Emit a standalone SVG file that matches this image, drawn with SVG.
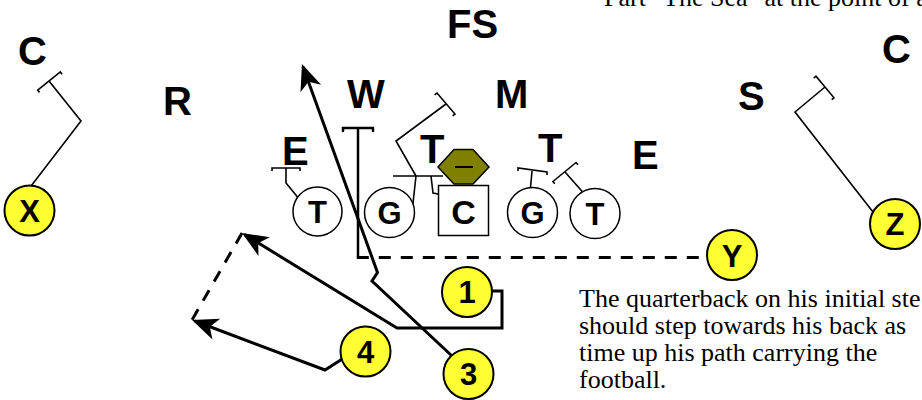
<svg xmlns="http://www.w3.org/2000/svg" width="922" height="400" viewBox="0 0 922 400">
<style>
.big{font-family:"Liberation Sans",Arial,sans-serif;font-weight:bold;font-size:40px;fill:#000}
.pl{font-family:"Liberation Sans",Arial,sans-serif;font-weight:bold;font-size:31px;fill:#000;text-anchor:middle}
.note{font-family:"Liberation Serif","Times New Roman",serif;font-size:26px;fill:#000}
.ol{fill:#fff;stroke:#000;stroke-width:1.5}
.sk{fill:#ffff33;stroke:#000;stroke-width:2}
.thin{fill:none;stroke:#000;stroke-width:1.6;stroke-linejoin:miter}
.route{fill:none;stroke:#000;stroke-width:3;stroke-linejoin:miter}
.dash{fill:none;stroke:#000;stroke-width:3;stroke-dasharray:12 10}
</style>
<defs>
<marker id="ah" markerUnits="userSpaceOnUse" viewBox="-25 -12 30 24" markerWidth="30" markerHeight="24" refX="0" refY="0" orient="auto">
<path d="M3,0 L-23,-11 L-16,0 L-23,11 Z" fill="#000"/>
</marker>
</defs>
<rect width="922" height="400" fill="#fff"/>

<g id="defense-labels">
<text class="big" x="18" y="65">C</text>
<text class="big" x="163" y="115">R</text>
<text class="big" x="447" y="38">FS</text>
<text class="big" x="347" y="108">W</text>
<text class="big" x="495" y="108">M</text>
<text class="big" x="738" y="110">S</text>
<text class="big" x="882" y="63">C</text>
<text class="big" x="282" y="165">E</text>
<text class="big" x="420" y="163">T</text>
<text class="big" x="538" y="162">T</text>
<text class="big" x="632" y="169">E</text>
</g>

<g id="connectors">
<path class="thin" d="M28,190 L81,121 L49,81"/>
<path class="thin" d="M39.5,92.5 L37.7,90.1 L60.3,71.9 L62.1,74.3"/>
<path class="thin" d="M873,212 L795,112 L825,87"/>
<path class="thin" d="M813.7,78.1 L816,76.2 L834,97.8 L831.7,99.7"/>
<path class="thin" d="M300,200 L286,183 L286,168"/>
<path class="thin" d="M272,171 L272,168 L300,168 L300,171"/>
<path class="thin" d="M407,203 L413,203 L416,176"/>
<path class="thin" d="M393,176 L443,176"/>
<path class="thin" d="M438,194 L433,193 L431,176"/>
<path class="thin" d="M416,176 L396,141 L446,104"/>
<path class="thin" d="M434.6,94.8 L437,93 L455,114 L452.6,115.8"/>
<path class="thin" d="M530,193 L532,171"/>
<path class="thin" d="M518,171 L518,168 L547,172 L547,175"/>
<path class="thin" d="M588,198 L565,172"/>
<path class="thin" d="M554.8,183.8 L552.9,181.5 L576.1,162.5 L578,164.8"/>
<path d="M358,128 L358,257.5" fill="none" stroke="#000" stroke-width="2.5"/>
<path d="M343,131 L343,128 L373,128 L373,131" fill="none" stroke="#000" stroke-width="2.5" stroke-linecap="round"/>
<path class="dash" d="M356.8,257.5 L707,257.5"/>
<path class="route" d="M482,291 L502,291 L502,328 L397,328 L244.6,234.6" marker-end="url(#ah)"/>
<path class="dash" d="M242,233 L192,320" stroke-dasharray="20 12"/>
<path class="route" d="M347,356 L325,370 L194.8,321" marker-end="url(#ah)"/>
<path class="route" d="M452,356 L372,281 L377.5,272.5 L303,66.8" marker-end="url(#ah)"/>
</g>

<g id="nose">
<polygon points="438,167 454,149.5 473,149.5 489,167 473,184 454,184" fill="#808000" stroke="#000" stroke-width="1.5"/>
<path d="M455,167 L473,167" stroke="#000" stroke-width="2"/>
</g>

<g id="LT"><circle class="ol" cx="317.5" cy="211.5" r="24.5"/><text class="pl" x="317.5" y="222.5">T</text></g>
<g id="LG"><circle class="ol" cx="389.5" cy="212.5" r="25"/><text class="pl" x="389.5" y="223.5">G</text></g>
<g id="C"><rect class="ol" x="438.5" y="185.5" width="50" height="50"/><text class="pl" x="463.5" y="223.5" style="font-size:34px">C</text></g>
<g id="RG"><circle class="ol" cx="532.5" cy="212.5" r="25"/><text class="pl" x="532.5" y="223.5">G</text></g>
<g id="RT"><circle class="ol" cx="595" cy="213.5" r="25"/><text class="pl" x="595" y="224.5">T</text></g>

<g id="X"><circle class="sk" cx="29.5" cy="210.5" r="25"/><text class="pl" x="29.5" y="221.5">X</text></g>
<g id="Z"><circle class="sk" cx="895" cy="224" r="25"/><text class="pl" x="895" y="235">Z</text></g>
<g id="Y"><circle class="sk" cx="732" cy="255" r="25"/><text class="pl" x="732" y="266.5">Y</text></g>
<g id="P1"><circle class="sk" cx="467" cy="292" r="25"/><text class="pl" x="467" y="303">1</text></g>
<g id="P3"><circle class="sk" cx="468.5" cy="374" r="25"/><text class="pl" x="468.5" y="385">3</text></g>
<g id="P4"><circle class="sk" cx="365.5" cy="351.5" r="25"/><text class="pl" x="365.5" y="362.5">4</text></g>

<g id="notes">
<text class="note" x="604" y="6">Part "The Sea" at the point of a</text>
<text class="note" x="579" y="307">The quarterback on his initial ste</text>
<text class="note" x="579" y="334">should step towards his back as</text>
<text class="note" x="579" y="361">time up his path carrying the</text>
<text class="note" x="579" y="388">football.</text>
</g>
</svg>
